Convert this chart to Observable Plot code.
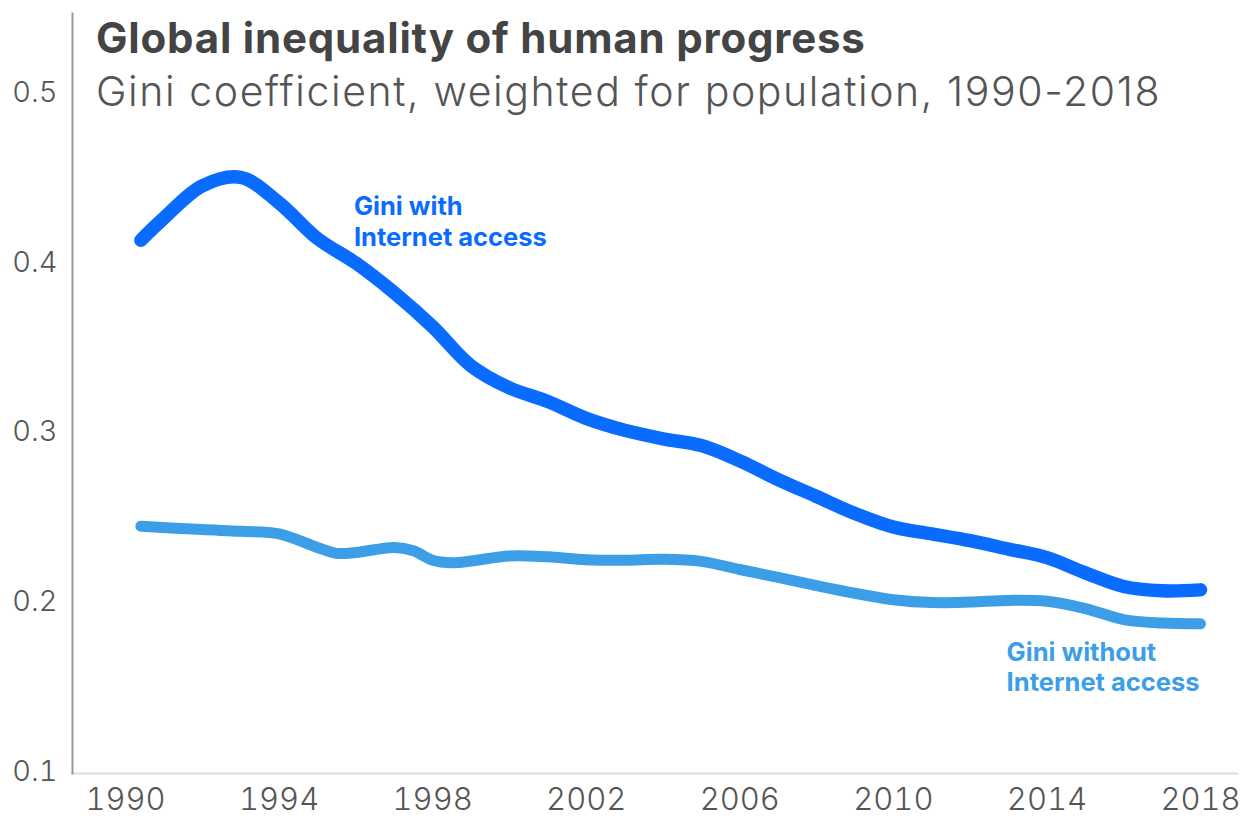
<!DOCTYPE html>
<html>
<head>
<meta charset="utf-8">
<script src="https://cdn.jsdelivr.net/npm/d3@7"></script>
<script src="https://cdn.jsdelivr.net/npm/@observablehq/plot@0.6"></script>
<style>
  html, body { margin: 0; padding: 0; background: #fff; }
  #wrap { position: relative; width: 1250px; height: 823px; }
  #title { position: absolute; left: 96px; top: 15px; font-family: Inter, "Noto Sans", sans-serif; font-weight: 700; font-size: 42px; color: #444; letter-spacing: 0.8px; line-height: 46px; white-space: nowrap; }
  #subtitle { position: absolute; left: 96px; top: 67px; font-family: Inter, "Noto Sans", sans-serif; font-weight: 300; font-size: 41px; color: #555; letter-spacing: 1.6px; line-height: 48px; white-space: nowrap; }
  #chart { position: absolute; left: 0; top: 0; }
</style>
</head>
<body>
<div id="wrap">
  <div id="chart"></div>
  <div id="title">Global inequality of human progress</div>
  <div id="subtitle">Gini coefficient, weighted for population, 1990-2018</div>
</div>
<script>
// Gini with Internet access
const withYears = [1990.4, 1991, 1992, 1993, 1994, 1995, 1996, 1997, 1998, 1999, 2000, 2001, 2002, 2003, 2004, 2005, 2006, 2007, 2008, 2009, 2010, 2011, 2012, 2013, 2014, 2015, 2016, 2017, 2018];
const withValues = [0.413, 0.426, 0.445, 0.450, 0.435, 0.414, 0.3995, 0.382, 0.362, 0.339, 0.326, 0.318, 0.308, 0.301, 0.296, 0.292, 0.283, 0.272, 0.262, 0.252, 0.244, 0.240, 0.236, 0.231, 0.226, 0.217, 0.209, 0.2065, 0.207];
// Gini without Internet access
const withoutYears = [1990.4, 1992, 1993, 1994, 1995, 1995.5, 1996, 1997, 1997.5, 1998, 1998.5, 1999, 2000, 2001, 2002, 2003, 2004, 2005, 2006, 2007, 2008, 2009, 2010, 2011, 2012, 2013, 2014, 2015, 2016, 2017, 2018];
const withoutValues = [0.2445, 0.2425, 0.2415, 0.240, 0.232, 0.2285, 0.229, 0.232, 0.230, 0.2245, 0.223, 0.224, 0.227, 0.2265, 0.2248, 0.2245, 0.225, 0.2238, 0.219, 0.2143, 0.2095, 0.205, 0.2012, 0.1995, 0.1998, 0.2008, 0.2003, 0.196, 0.1895, 0.1875, 0.187];
// Axis ticks
const xTicks = [1990, 1994, 1998, 2002, 2006, 2010, 2014, 2018];
const yTicks = [0.1, 0.2, 0.3, 0.4, 0.5];
// Series labels (anchored in data space)
const labelTexts = ["Gini with\nInternet access", "Gini without\nInternet access"];
const labelYears = [1995.95, 2012.95];
const labelValues = [0.4405, 0.178];
const labelColors = ["#0a6cff", "#3b9ee6"];

const withData = withYears.map((x, i) => ({x, y: withValues[i]}));
const withoutData = withoutYears.map((x, i) => ({x, y: withoutValues[i]}));
const labels = labelTexts.map((t, i) => ({t, x: labelYears[i], y: labelValues[i], c: labelColors[i]}));

const chart = Plot.plot({
  width: 1250,
  height: 823,
  marginLeft: 72,
  marginRight: 13,
  marginTop: 13,
  marginBottom: 50,
  style: { fontFamily: "Inter, 'Noto Sans', sans-serif", background: "#fff" },
  x: { domain: [1990, 2018], insetLeft: 53, insetRight: 37, ticks: xTicks, tickFormat: d => String(d), tickSize: 0, tickPadding: 14, label: null },
  y: { domain: [0.1, 0.5], insetTop: 79, insetBottom: 2, ticks: yTicks, tickFormat: d => d.toFixed(1), tickSize: 0, tickPadding: 15, label: null },
  marks: [
    Plot.frame({anchor: "bottom", stroke: "#ddd", strokeWidth: 2, strokeOpacity: 1}),
    Plot.frame({anchor: "left", stroke: "#999", strokeWidth: 2, strokeOpacity: 1}),
    Plot.axisX({ticks: xTicks, tickFormat: d => String(d), tickSize: 0, tickPadding: 14, fontSize: 31, fontWeight: 300, fill: "#555", label: null}),
    Plot.axisY({ticks: yTicks, tickFormat: d => d.toFixed(1), tickSize: 0, tickPadding: 15, fontSize: 29, fontWeight: 300, fill: "#555", label: null}),
    Plot.line(withoutData, {x: "x", y: "y", stroke: "#3b9ee6", strokeWidth: 11, curve: "catmull-rom", strokeLinecap: "round", strokeLinejoin: "round"}),
    Plot.line(withData, {x: "x", y: "y", stroke: "#0a6cff", strokeWidth: 13.5, curve: "catmull-rom", strokeLinecap: "round", strokeLinejoin: "round"}),
    Plot.text(labels, {x: "x", y: "y", text: "t", fill: "c", textAnchor: "start", lineAnchor: "top", fontSize: 25.5, fontWeight: 700, lineHeight: 1.2})
  ]
});
document.getElementById("chart").appendChild(chart);
</script>
</body>
</html>
